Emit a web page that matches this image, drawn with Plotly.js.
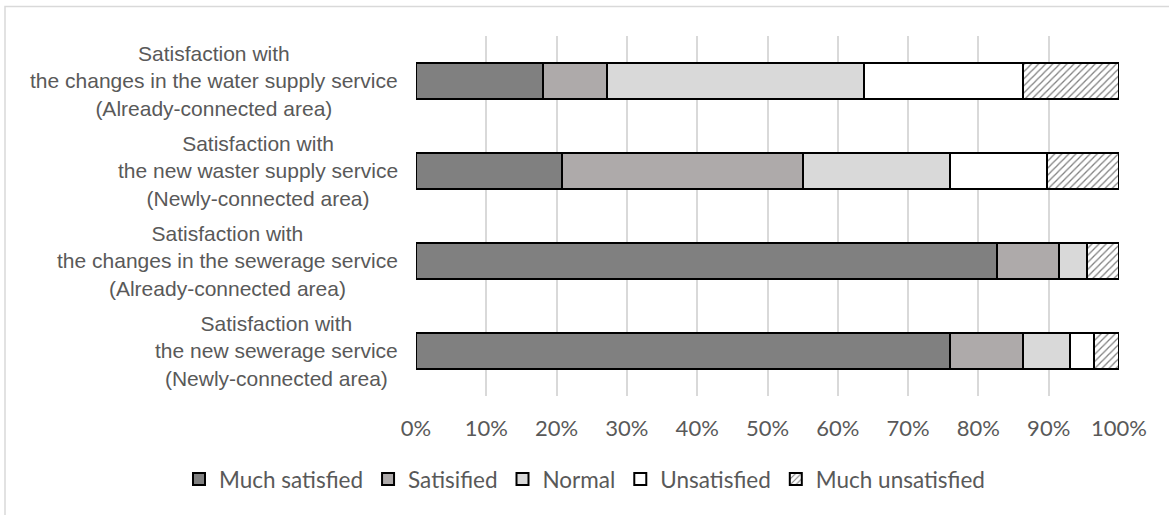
<!DOCTYPE html>
<html>
<head>
<meta charset="utf-8">
<script src="https://cdn.plot.ly/plotly-3.0.1.min.js"></script>
<style>
html,body{margin:0;padding:0;background:#fff;overflow:hidden;}
#chart{width:1169px;height:515px;}
</style>
</head>
<body>
<div id="chart"></div>
<script>
// Categories (top to bottom)
const categories = [
  "Satisfaction with<br>the changes in the water supply service<br>(Already-connected area)",
  "Satisfaction with<br>the new waster supply service<br>(Newly-connected area)",
  "Satisfaction with<br>the changes in the sewerage service<br>(Already-connected area)",
  "Satisfaction with<br>the new sewerage service<br>(Newly-connected area)"
];
const seriesNames = ["Much satisfied", "Satisified", "Normal", "Unsatisfied", "Much unsatisfied"];
// Shares (%) per category, in category order
const muchSatisfied   = [18.1, 20.7, 82.7, 76.0];
const satisfied       = [9.1, 34.4, 8.7, 10.3];
const normal          = [36.5, 20.8, 4.1, 6.7];
const unsatisfied     = [22.6, 13.9, 0.0, 3.5];
const muchUnsatisfied = [13.7, 10.2, 4.5, 3.5];
const xTickValues = [0,0.1,0.2,0.3,0.4,0.5,0.6,0.7,0.8,0.9,1.0];

const seriesValues = [muchSatisfied, satisfied, normal, unsatisfied, muchUnsatisfied];
const fills = ["#808080", "#AEAAAA", "#D9D9D9", "#FFFFFF", "#FFFFFF"];

const traces = seriesValues.map((vals, i) => {
  const marker = {color: fills[i], line: {color: "#000000", width: 2}};
  if (i === 4) {
    marker.pattern = {shape: "/", fgcolor: "#7f7f7f", bgcolor: "#FFFFFF", size: 5, solidity: 0.25};
  }
  return {
    type: "bar",
    orientation: "h",
    name: seriesNames[i],
    y: categories,
    x: vals.map(v => v / 100),
    marker: marker,
    hoverinfo: "name+x"
  };
});

const labelFont = {family: "Liberation Sans, Arial, sans-serif", size: 21, color: "#595959"};
const annotations = categories.map(c => ({
  xref: "paper", yref: "y", x: 0, y: c, xanchor: "right", yanchor: "middle",
  xshift: -16, align: "center", text: c, showarrow: false, font: labelFont
}));

const layout = {
  width: 1169, height: 515,
  margin: {l: 416, r: 50, t: 35.6, b: 118.6, pad: 0, autoexpand: false},
  paper_bgcolor: "#FFFFFF", plot_bgcolor: "#FFFFFF",
  barmode: "stack",
  bargap: 0.595,
  showlegend: true,
  legend: {
    orientation: "h", traceorder: "normal",
    x: (179 - 416) / 703, xanchor: "left", y: -(480 - 396.4) / 360.8, yanchor: "middle",
    font: {family: "Lato, sans-serif", size: 22.5, color: "#595959"},
    itemwidth: 30
  },
  xaxis: {
    range: [0, 1], tickvals: xTickValues, tickformat: ".0%",
    showgrid: true, gridcolor: "#D9D9D9", gridwidth: 2,
    zeroline: false, showline: false, ticks: "",
    ticklabelstandoff: 17,
    tickfont: {family: "Lato, sans-serif", size: 22, color: "#595959"},
    fixedrange: true
  },
  yaxis: {
    type: "category", autorange: "reversed",
    showticklabels: false, showgrid: false, zeroline: false, showline: false, ticks: "",
    fixedrange: true
  },
  annotations: annotations,
  shapes: [{
    type: "rect", xref: "paper", yref: "paper",
    x0: (5 - 416) / 703, x1: (1180 - 416) / 703,
    y0: (396.4 - 530) / 360.8, y1: (396.4 - 6) / 360.8,
    line: {color: "#D9D9D9", width: 1.5}, fillcolor: "rgba(0,0,0,0)", layer: "below"
  }]
};

Plotly.newPlot("chart", traces, layout, {displayModeBar: false, staticPlot: true});
</script>
</body>
</html>
